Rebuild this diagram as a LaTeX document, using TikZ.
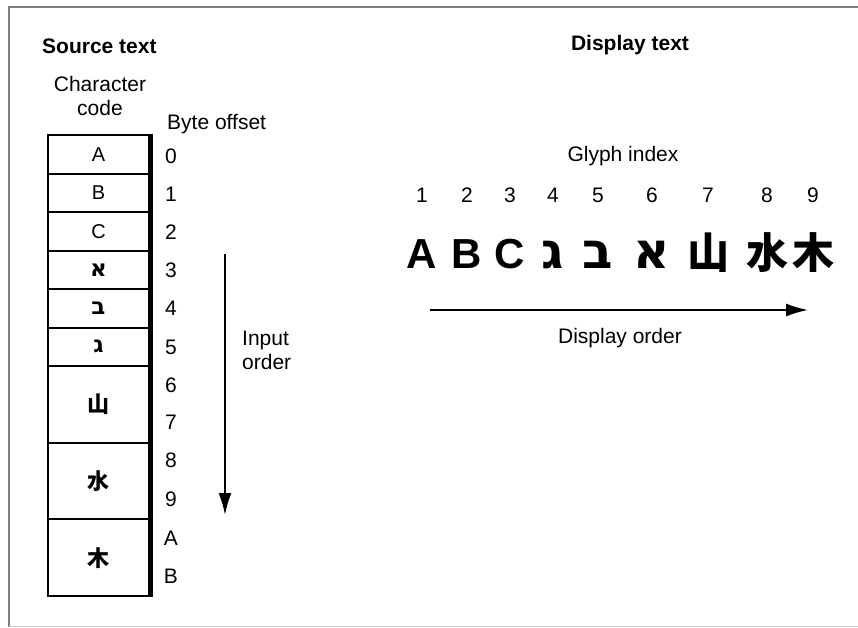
\documentclass[tikz,border=0pt]{standalone}
\usepackage{fontspec}
\setmainfont{Liberation Sans}
\newfontfamily\hebfont[Script=Hebrew]{DejaVu Sans}
\newfontfamily\cjk{Noto Sans CJK SC}
\usetikzlibrary{positioning,arrows.meta}

\begin{document}
\begin{tikzpicture}[
    x=1pt, y=-1pt,
    node distance=0pt,
    note/.style={
        font=\fontsize{21}{24}\selectfont,
        inner sep=0pt
    },
    heading/.style={
        font=\bfseries\fontsize{21}{24}\selectfont,
        inner sep=0pt
    },
    cell/.style={
        draw,
        line width=2pt,
        outer sep=0pt,
        inner sep=0pt,
        minimum width=101pt,
        minimum height=38.5pt,
        font=\fontsize{20}{24}\selectfont
    },
    tallcell/.style={
        cell,
        minimum height=76.7pt
    },
    glyph/.style={
        font=\bfseries\fontsize{42}{44}\selectfont,
        inner sep=0pt,
        anchor=base
    },
    arrow/.style={
        -{Latex[length=22pt,width=13pt]},
        line width=1.8pt
    }
]

\useasboundingbox (0,0) rectangle (858,627);

% frame
\draw[gray, line width=2pt] (858,6.5) -- (8.5,6.5) -- (8.5,627);
\draw[black!20, line width=1pt] (8.5,626) -- (858,626);

% titles
\node[heading, anchor=west] (srctitle) at (42,46) {Source text};
\node[heading] (disptitle) at (630,45) {Display text};

% source side
\node[note, align=center] (charcode) at (100,96) {Character\\code};
\node[note, anchor=west] (byteoff) at (167,124) {Byte offset};

\node[cell] (cA) at (98.5,154.25) {A};
\node[cell, below=of cA] (cB) {B};
\node[cell, below=of cB] (cC) {C};
\node[cell, below=of cC] (cAlef) {\hebfont\bfseries\fontsize{23}{24}\selectfont א};
\node[cell, below=of cAlef] (cBet) {\hebfont\bfseries\fontsize{23}{24}\selectfont ב};
\node[cell, below=of cBet] (cGimel) {\hebfont\bfseries\fontsize{23}{24}\selectfont ג};
\node[tallcell, below=of cGimel] (cShan) {\cjk\bfseries\fontsize{22}{24}\selectfont 山};
\node[tallcell, below=of cShan] (cShui) {\cjk\bfseries\fontsize{22}{24}\selectfont 水};
\node[tallcell, below=of cShui] (cMu) {\cjk\bfseries\fontsize{22}{24}\selectfont 木};
\draw[line width=4pt] (cA.north east) ++(1.5,-1) -- ([xshift=1.5pt, yshift=-1pt]cMu.south east);

\node[note] (off0) at (171,156) {0};
\node[note] (off1) at (171,194) {1};
\node[note] (off2) at (171,232) {2};
\node[note] (off3) at (171,270) {3};
\node[note] (off4) at (171,308) {4};
\node[note] (off5) at (171,347) {5};
\node[note] (off6) at (171,385) {6};
\node[note] (off7) at (171,422) {7};
\node[note] (off8) at (171,460) {8};
\node[note] (off9) at (171,499) {9};
\node[note] (offA) at (171,538) {A};
\node[note] (offB) at (171,576) {B};

\coordinate (instart) at (225,254);
\coordinate (inend) at (225,515);
\draw[arrow] (instart) -- (inend);
\node[note, align=left, anchor=north west] (inorder) at (242,331) {Input\\order};

% display side
\node[note] (glyphidx) at (623,156) {Glyph index};

\node[glyph] (gA) at (422,268) {A};
\node[glyph] (gB) at (467,268) {B};
\node[glyph] (gC) at (510,268) {C};
\node[glyph] (gGimel) at (553,268) {\hebfont\bfseries\fontsize{50}{52}\selectfont ג};
\node[glyph] (gBet) at (598,268) {\hebfont\bfseries\fontsize{50}{52}\selectfont ב};
\node[glyph] (gAlef) at (652,268) {\hebfont\bfseries\fontsize{50}{52}\selectfont א};
\node[glyph] (gShan) at (708,268) {\cjk\bfseries 山};
\node[glyph] (gShui) at (767,268) {\cjk\bfseries 水};
\node[glyph] (gMu) at (813,268) {\cjk\bfseries 木};

\node[note] (idx1) at (422,195) {1};
\node[note] (idx2) at (467,195) {2};
\node[note] (idx3) at (510,195) {3};
\node[note] (idx4) at (553,195) {4};
\node[note] (idx5) at (598,195) {5};
\node[note] (idx6) at (652,195) {6};
\node[note] (idx7) at (708,195) {7};
\node[note] (idx8) at (767,195) {8};
\node[note] (idx9) at (813,195) {9};

\coordinate (dispstart) at (430,310);
\coordinate (dispend) at (808,310);
\draw[arrow] (dispstart) -- (dispend);
\node[note] (disporder) at (620,338) {Display order};

\end{tikzpicture}
\end{document}
